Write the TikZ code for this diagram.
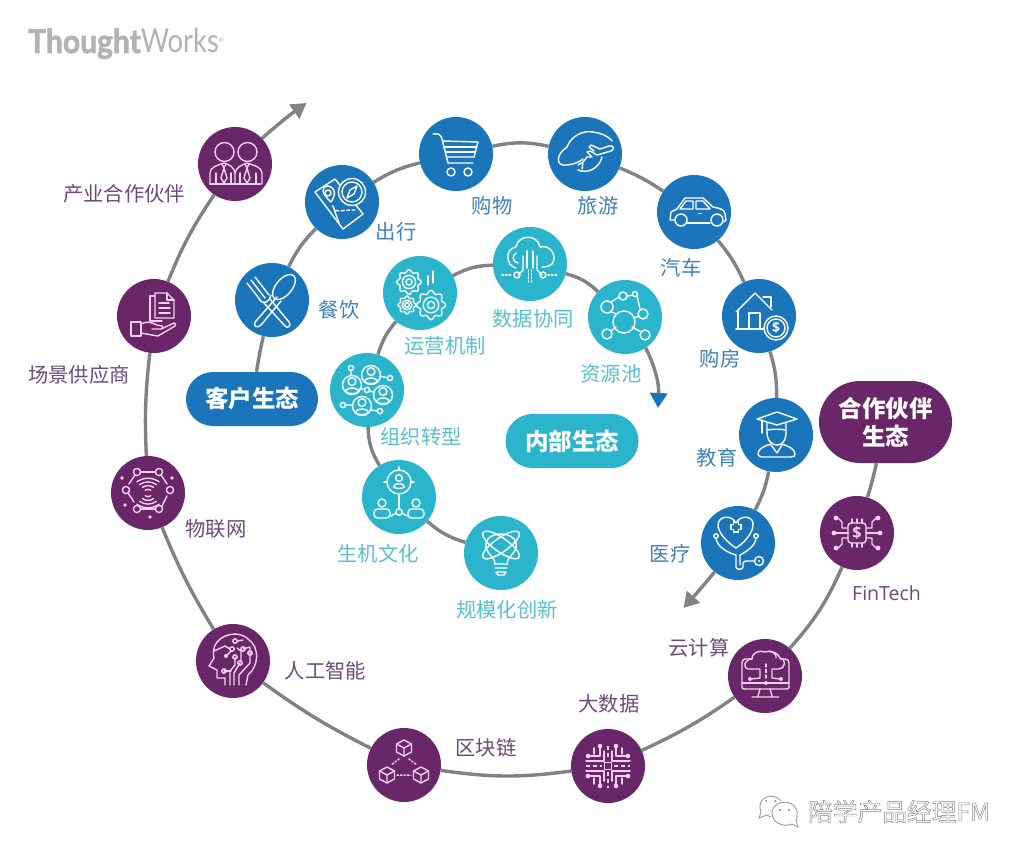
\documentclass[tikz,border=0pt]{standalone}
\usepackage{fontspec}
\usetikzlibrary{arrows.meta,shapes.misc}
\newfontfamily\cjk{Noto Sans CJK SC}
\newfontfamily\ofont{Open Sans}
\newfontfamily\lato{Lato}
\definecolor{cp}{HTML}{692769}
\definecolor{cb}{HTML}{1B75BB}
\definecolor{ct}{HTML}{2BB5CC}
\definecolor{lp}{HTML}{6E4A7C}
\definecolor{lb}{HTML}{3F82B8}
\definecolor{lt}{HTML}{58BFCF}
\definecolor{lg}{HTML}{808285}
\definecolor{ip}{HTML}{F8CFF4}
\definecolor{logog}{HTML}{B2B3B5}
\tikzset{
 bub/.style={circle,minimum size=74pt,inner sep=0pt,draw=none},
 pb/.style={bub,fill=cp}, bb/.style={bub,fill=cb}, tb/.style={bub,fill=ct},
 pill/.style={rounded rectangle,inner sep=0pt,text=white,align=center,
   font=\fontsize{23.5}{28}\selectfont\cjk\bfseries},
 lab/.style={inner sep=0pt,font=\fontsize{20.3}{24}\selectfont\cjk},
 lpn/.style={lab,text=lp}, lbn/.style={lab,text=lb}, ltn/.style={lab,text=lt},
 conn/.style={draw=lg,line width=3.4pt},
 head/.style={-{Triangle[length=15pt,width=17pt]}},
 bhead/.style={-{Triangle[length=15pt,width=17pt,color=cb]}},
}
\newcommand\icon[3]{\begin{scope}[shift={(#1.center)},color=#2,line width=1.4pt,line join=round,line cap=round]#3\end{scope}}
\newcommand\gearic[3]{\draw plot[smooth cycle,domain=0:352.5,samples=48,variable=\t]
   ({#1+#3*(1+.13*cos(8*\t))*cos(\t)},{#2+#3*(1+.13*cos(8*\t))*sin(\t)});
   \draw (#1,#2) circle (#3*.6); \draw (#1,#2) circle (#3*.28);}
\newcommand\cubeic[2]{\begin{scope}[shift={(#1,#2)}]
   \draw (0,-8)--(7.5,-4)--(7.5,4)--(0,8)--(-7.5,4)--(-7.5,-4)--cycle;
   \draw (-7.5,-4)--(0,0)--(7.5,-4) (0,0)--(0,8);\end{scope}}
\newcommand\persic[3]{\begin{scope}[shift={(#1,#2)},scale=#3]
   \draw (0,-3) circle (3.4);
   \draw (-5.5,6) .. controls (-5.5,1.5) and (5.5,1.5) .. (5.5,6) .. controls (3,8) and (-3,8) .. (-5.5,6);\end{scope}}
\newcommand\wmtext[1]{\special{pdf:code q 1 Tr 0.45 w 0.5 0.5 0.5 RG}#1\special{pdf:code Q}}
\newcommand\heavy[1]{\special{pdf:code q 2 Tr 0.7 w 0.698 0.702 0.71 RG}#1\special{pdf:code Q}}
\begin{document}
\begin{tikzpicture}[x=1pt,y=-1pt]
\useasboundingbox (0,0) rectangle (1024,856);
\fill[white] (0,0) rectangle (1024,856);

% logo
\node[anchor=base west,inner sep=0pt,text=logog] (logo) at (28,53)
 {\fontsize{33}{36}\selectfont\lato\scalebox{0.91}[1]{\heavy{\bfseries Thought}}\scalebox{0.83}[1]{Works}\raisebox{10pt}{\fontsize{6}{6}\selectfont ®}};

% purple ring
\node[pb] (n1) at (235,164) {};
\node[pb] (n2) at (154,316) {};
\node[pb] (n3) at (148,493) {};
\node[pb] (n4) at (233,661) {};
\node[pb] (n5) at (404,765) {};
\node[pb] (n6) at (608,766) {};
\node[pb] (n7) at (765,676) {};
\node[pb] (n8) at (857,533) {};
\node[pill,fill=cp,minimum width=133pt,minimum height=82pt] (pp) at (885.5,422) {合作伙伴\\生态};
% blue ring
\node[bb] (b1) at (272,300) {};
\node[bb] (b2) at (342,202) {};
\node[bb] (b3) at (456,154) {};
\node[bb] (b4) at (585,154) {};
\node[bb] (b5) at (694,212) {};
\node[bb] (b6) at (759,316) {};
\node[bb] (b7) at (776,435) {};
\node[bb] (b8) at (738,543) {};
\node[pill,fill=cb,minimum width=132pt,minimum height=54pt] (pb0) at (252,399) {客户生态};
% teal ring
\node[tb] (t1) at (501,553) {};
\node[tb] (t2) at (399,497) {};
\node[tb] (t3) at (367,390) {};
\node[tb] (t4) at (420,293) {};
\node[tb] (t5) at (530,264) {};
\node[tb] (t6) at (625,317) {};
\node[pill,fill=ct,minimum width=133pt,minimum height=54pt] (pt0) at (572,441) {内部生态};

\coordinate (ep) at (306.5,103);
\coordinate (eb) at (683.5,608);
\coordinate (et) at (658,408);

% connectors
\draw[conn] (pp) to[bend left=2] (n8);
\draw[conn] (n8) to[bend left=9] (n7);
\draw[conn] (n7) to[bend left=5] (n6);
\draw[conn] (n6) to[bend left=8] (n5);
\draw[conn] (n5) to[bend left=4.5] (n4);
\draw[conn] (n4) to[bend left=4.5] (n3);
\draw[conn] (n3) to[bend left=4.5] (n2);
\draw[conn] (n2) to[bend left=6] (n1);
\draw[conn,head] (n1) to[bend left=3] (ep);
\draw[conn] (pb0) to[bend left=2] (b1);
\draw[conn] (b1) to[bend left=9] (b2);
\draw[conn] (b2) to[bend left=9] (b3);
\draw[conn] (b3) to[bend left=12] (b4);
\draw[conn] (b4) to[bend left=6] (b5);
\draw[conn] (b5) to[bend left=8] (b6);
\draw[conn] (b6) to[bend left=9] (b7);
\draw[conn] (b7) to[bend left=8] (b8);
\draw[conn,head] (b8) to[bend left=1] (eb);
\draw[conn] (t1) to[bend left=12] (t2);
\draw[conn] (t2) to[bend left=15] (t3);
\draw[conn] (t3) to[bend left=11.5] (t4);
\draw[conn] (t4) to[bend left=13] (t5);
\draw[conn] (t5) to[bend left=14] (t6);
\draw[conn,bhead] (t6) to[bend left=14] (et);

% labels
\node[lpn] (ln1) at (124,194) {产业合作伙伴};
\node[lpn] (ln2) at (79,375) {场景供应商};
\node[lpn] (ln3) at (216,529) {物联网};
\node[lpn] (ln4) at (325.5,671) {人工智能};
\node[lpn] (ln5) at (486,748) {区块链};
\node[lpn] (ln6) at (609,704) {大数据};
\node[lpn] (ln7) at (699,648) {云计算};
\node[inner sep=0pt,text=lp,font=\fontsize{19.5}{24}\selectfont\ofont] (ln8) at (886.5,593) {FinTech};
\node[lbn] (lb1) at (339,310) {餐饮};
\node[lbn] (lb2) at (396,232) {出行};
\node[lbn] (lb3) at (492,206) {购物};
\node[lbn] (lb4) at (598,206) {旅游};
\node[lbn] (lb5) at (681,268) {汽车};
\node[lbn] (lb6) at (720,359) {购房};
\node[lbn] (lb7) at (717,458) {教育};
\node[lbn] (lb8) at (670,554) {医疗};
\node[ltn] (lt1) at (507,610) {规模化创新};
\node[ltn] (lt2) at (378,554) {生机文化};
\node[ltn] (lt3) at (421,437) {组织转型};
\node[ltn] (lt4) at (445,346) {运营机制};
\node[ltn] (lt5) at (533,319) {数据协同};
\node[ltn] (lt6) at (611,374) {资源池};

% ---- purple icons
\icon{n1}{ip}{
 \draw (-10.5,-12) circle (9.5); \draw (12.5,-12) circle (9.5);
 \draw (-25,20) -- (25,20);
 \draw (-25,20) -- (-25,9) .. controls (-25,3) and (-17,1) .. (-11,-1) .. controls (-5,1) and (-1,3) .. (0,9) -- (0,20);
 \draw (0,9) .. controls (1,3) and (7,1) .. (12,-1) .. controls (18,1) and (27,3) .. (27,9) -- (27,20) -- (25,20);
 \draw (-13,0) -- (-11,4) -- (-9,0); \draw (-11,4) -- (-14,14) -- (-11,19) -- (-8,14) -- cycle;
 \draw (10,0) -- (12,4) -- (14,0); \draw (12,4) -- (9,14) -- (12,19) -- (15,14) -- cycle;
 \draw (-19,20) -- (-19,9) (-4,20) -- (-4,9) (5,20) -- (5,9) (21,20) -- (21,9);
}
\icon{n2}{ip}{
 \draw (1,-23) -- (13,-23) -- (20,-16) -- (20,2) -- (1,2) -- cycle;
 \draw (13,-23) -- (13,-16) -- (20,-16);
 \draw (1,-20) -- (-4,-20) -- (-4,5) -- (8,5);
 \draw (5,-13) -- (15,-13) (5,-8) -- (16,-8) (5,-3) -- (16,-3);
 \draw (-23,6) rectangle (-13,20);
 \draw (-13,8) .. controls (-7,5) and (-3,6) .. (3,9) -- (8,10) .. controls (10,11) and (9,13) .. (7,13) -- (-2,13);
 \draw (7,13) -- (20,7) .. controls (22,7) and (22,9) .. (21,10) -- (4,20) -- (-2,19) -- (-13,17);
}
\icon{n3}{ip}{
 \foreach \p in {(-11,-21),(11,-21),(22,-3),(11,16),(-11,16),(-22,-3)} \draw \p circle (3.6);
 \draw (-7,-21) -- (7,-21) (-7,16) -- (7,16);
 \draw (-13,-18) -- (-19,-9) (-20,0) -- (-14,9) (13,-18) -- (19,-9) (14,13) -- (19,3);
 \foreach \p in {(-26,-15),(24,-15),(-23,12),(2,24)} \fill \p circle (1.8);
 \foreach \r in {4,8,12,16} { \draw (-\r*.7,-\r*.7) .. controls (-\r*.25,-\r) and (\r*.25,-\r) .. (\r*.7,-\r*.7); \draw (-\r*.7,\r*.7) .. controls (-\r*.25,\r) and (\r*.25,\r) .. (\r*.7,\r*.7);}
}
\icon{n4}{ip}{
 \draw (-8,24) -- (-8,17) -- (-16,17) -- (-16,9) -- (-24,5) -- (-19,-3) .. controls (-24,-25) and (4,-33) .. (15,-22) .. controls (27,-14) and (26,5) .. (15,14) -- (13,24);
 \draw (-19,-10) -- (-8,-15) -- (-1,-11) -- (-7,-5) ; \fill (-7,-5) circle (2);
 \draw (5,-20) -- (10,-21) (4,-13) -- (8,-10) -- (8,0); 
 \foreach \p in {(-1,-12),(2,-20),(10,-12),(17,-8),(2,-4),(7,2),(-9,10)} \draw[fill=cp] \p circle (2.2);
 \draw (10,-12) -- (17,-14) -- (17,-8) -- (17,2) -- (6,14) -- (6,24);
 \draw (2,-4) -- (2,4) -- (-3,10) -- (-3,24);
 \draw (7,2) -- (1,12) -- (1,24);
 \draw (-9,10) -- (-2,10);
}
\icon{n5}{ip}{
 \cubeic{0}{-17} \cubeic{-17}{10} \cubeic{17}{10}
 \draw[dotted,line width=1.5pt] (-5,-6) -- (-13,0) (5,-6) -- (13,0) (-7,10) -- (7,10);
}
\icon{n6}{ip}{
 \draw (-3.5,-3.5) rectangle (3.5,3.5);
 \draw[dash pattern=on 4pt off 3pt,line cap=butt] (0,-20) -- (0,-6) (0,6) -- (0,22) (-22,0) -- (-6,0) (6,0) -- (22,0);
 \foreach \sx in {-1,1} \foreach \sy in {-1,1} {
  \begin{scope}[xscale=\sx,yscale=\sy]
   \draw (8,-18) -- (8,-10) -- (18,-10); \draw (22,-5) -- (4,-5) (14,-18) -- (14,-12);
   \fill (8,-20) circle (2.3); \fill (20,-10) circle (2.3);
   \draw (4,-5) -- (4,-15);
  \end{scope}}
}
\icon{n7}{ip}{
 \draw (-14,-17) -- (-20,-17) .. controls (-22,-17) and (-23,-15) .. (-23,-13) -- (-23,11) .. controls (-23,13) and (-22,13) .. (-20,13) -- (20,13) .. controls (23,13) and (24,13) .. (24,11) -- (24,-13) .. controls (24,-15) and (23,-17) .. (20,-17) -- (15,-17);
 \draw (-23,7) -- (24,7);
 \draw (-5,13) -- (-7,20) (5,13) -- (7,20) (-13,21) -- (14,21);
 \draw (-5,-7) -- (-17,-7) .. controls (-23,-9) and (-20,-17) .. (-13,-17) .. controls (-13,-24) and (-5,-26) .. (0,-24) .. controls (8,-26) and (14,-22) .. (15,-18) .. controls (22,-17) and (20,-7) .. (14,-7) -- (7,-7);
 \draw (4,-25) .. controls (9,-24) and (12,-21) .. (11,-18);
 \draw (-5,-6) -- (-5,2) -- (-14,3); \draw (7,-6) -- (7,2) -- (15,3);
 \draw[dash pattern=on 3pt off 2.5pt] (1,-12) -- (1,4);
 \foreach \p in {(-15,3),(16,3),(1,7)} \fill \p circle (2);
}
\icon{n8}{ip}{
 \draw[rounded corners=3pt] (-9,-10) rectangle (9,10);
 \node[inner sep=0pt,text=ip,font=\fontsize{16}{16}\selectfont\bfseries\ofont] at (0,0) {\$};
 \draw (-5,-10) -- (-5,-14) (0,-10) -- (0,-14) (5,-10) -- (5,-14) (-5,10) -- (-5,14) (0,10) -- (0,14) (5,10) -- (5,14);
 \foreach \sx in {-1,1} { \begin{scope}[xscale=\sx]
  \draw (9,-5) -- (15,-5) -- (15,-11) -- (19,-15);
  \draw (9,0) -- (21,0);
  \draw (9,5) -- (15,5) -- (15,11) -- (19,15);
  \foreach \p in {(21,-15),(23,0),(21,15)} \fill \p circle (2.4);
 \end{scope}}
}
% ---- blue icons
\icon{b1}{white}{
 \draw (-25,-17) -- (-11,1) (-21,-20) -- (-7,-2) (-17,-23) -- (-3,-5);
 \draw (-13,-1) .. controls (-9,5) and (-3,3) .. (-1,-5);
 \draw (-8,3) -- (13,26) .. controls (15,29) and (20,26) .. (17,22) -- (-2,-1);
 \draw[shift={(12,-13)},rotate=50] (0,0) ellipse (15 and 8);
 \draw (5,-3) -- (-16,21) .. controls (-20,26) and (-15,29) .. (-11,25) -- (9,1);
}
\icon{b2}{white}{
 \draw (-27,-10) -- (-7,-23) -- (21,12) -- (1,27) -- cycle;
 \draw (-14,-9) circle (3); \draw (-14,-16) .. controls (-22,-15) and (-20,-8) .. (-11,0) .. controls (-6,-8) and (-6,-14) .. (-14,-16);
 \draw[dash pattern=on 3pt off 2.5pt] (-9,4) .. controls (-7,12) and (-4,8) .. (13,8);
 \draw (-9,4) -- (-3,21);
 \draw[fill=cb] (10,-10) circle (13.5); \draw (10,-10) circle (10);
 \draw (15,-16) -- (12,-8) -- (5,-4) -- (8,-12) -- cycle;
}
\icon{b3}{white}{
 \draw (-23,-20) .. controls (-17,-21) and (-15,-19) .. (-14,-15) -- (-8,9) -- (17,9);
 \draw (-13,-13) -- (22,-12) -- (18,3) -- (-9,3);
 \draw (-12,-7) -- (20,-7) (-10,-2) -- (19,-2);
 \draw (-5,18) circle (4); \draw (12,18) circle (4);
}
\icon{b4}{white}{
 \draw (-18,-7) .. controls (-14,-18) and (-2,-24) .. (8,-22) .. controls (15,-21) and (22,-19) .. (27,-13);
 \draw (-18,-7) .. controls (-30,1) and (-29,13) .. (-18,11) .. controls (-10,10) and (-6,8) .. (-2,5);
 \draw (-7,16) .. controls (2,20) and (14,15) .. (17,3);
 \draw (-2,8) -- (2,3) -- (7,3) -- (2,-2) -- (5,-3) -- (12,1) -- (26,-3) .. controls (30,-5) and (29,-9) .. (24,-8) -- (15,-5) -- (6,-9) -- (4,-7) -- (9,-3);
 \draw (-7,11) -- (-2,8) -- (-3,15);
}
\icon{b5}{white}{
 \draw (-19,8) -- (-24,8) -- (-23,0) -- (-17,-3) -- (-9,-14) -- (9,-14) -- (19,-5) .. controls (26,-4) and (31,-2) .. (31,2) -- (32,8) -- (30,10);
 \draw (-7,11) -- (16,11);
 \draw (-14,-3) -- (-8,-11) -- (-1,-11) -- (-1,-3) -- cycle;
 \draw (2,-11) -- (9,-11) -- (16,-3) -- (2,-3) -- cycle;
 \draw (-13,8) circle (6); \draw (23,8) circle (6);
 \fill (4,1) rectangle (8,2);
}
\icon{b6}{white}{
 \draw (-23,-4) -- (-4,-23) -- (13,-6);
 \draw (-21,-6) -- (-21,13); \draw (-23,13) -- (5,13);
 \draw (-10,13) -- (-10,-3) -- (1,-3) -- (1,13);
 \draw (4,-19) -- (12,-19) -- (12,-9);
 \draw[fill=cb] (17,12) circle (12);
 \draw (17,12) circle (9);
 \node[inner sep=0pt,text=white,font=\fontsize{14}{14}\selectfont\bfseries\ofont] at (17,12) {\$};
}
\icon{b7}{white}{
 \draw (-19,-16) -- (1,-23) -- (21,-16) -- (1,-10) -- cycle;
 \draw (-14,-15) -- (-14,-2);
 \draw (-9,-13) -- (-9,-3) .. controls (-9,7) and (-3,10) .. (1,10) .. controls (5,10) and (10,7) .. (10,-3) -- (10,-13);
 \draw (-9,-5) .. controls (-3,-6) and (4,-6) .. (10,-5);
 \draw (-5,9) .. controls (-12,11) and (-18,14) .. (-18,19) .. controls (-18,21) and (-16,22) .. (-14,22) -- (15,22) .. controls (18,22) and (19,21) .. (19,19) .. controls (19,14) and (12,11) .. (6,9);
 \draw (-5,10) -- (1,18) -- (6,10);
}
\icon{b8}{white}{
 \draw (-2,5) .. controls (-10,0) and (-20,-10) .. (-20,-18) .. controls (-20,-27) and (-7,-29) .. (-2,-20) .. controls (3,-29) and (16,-27) .. (15,-18) .. controls (15,-10) and (6,0) .. (-2,5);
 \draw (-4.5,-21) -- (0.5,-21) -- (0.5,-18.5) -- (3,-18.5) -- (3,-13.5) -- (0.5,-13.5) -- (0.5,-11) -- (-4.5,-11) -- (-4.5,-13.5) -- (-7,-13.5) -- (-7,-18.5) -- (-4.5,-18.5) -- cycle;
 \draw (-22,-5) .. controls (-22,3) and (-10,10) .. (-2,12) -- (-2,24) .. controls (-2,27) and (5,27) .. (5,24) -- (5,20) .. controls (5,18) and (8,18) .. (10,18) -- (16,18);
 \draw (18,-5) .. controls (18,3) and (6,10) .. (2,12) -- (2,22);
 \draw (-22,-7) circle (2.2); \draw (18,-7) circle (2.2);
 \draw (21,18) circle (4.5); \fill (21,18) circle (1.2);
}
% ---- teal icons
\icon{t4}{white}{
 \gearic{-11}{-11}{11}
 \gearic{-13}{12}{8}
 \gearic{11}{12}{13}
 \draw (13,-22) -- (13,-10) (8,-17) -- (8,-8);
}
\icon{t5}{white}{
 \draw (-14,4) .. controls (-24,2) and (-26,-15) .. (-14,-17) .. controls (-12,-30) and (8,-30) .. (10,-17) .. controls (20,-20) and (28,-8) .. (22,0) .. controls (20,2) and (16,3) .. (12,3);
 \draw (-14,-11) .. controls (-18,-9) and (-18,-2) .. (-12,-1);
 \draw (-7,-8) -- (-7,6) -- (-12,11);
 \draw (7,-8) -- (7,6) -- (12,11);
 \draw (-3,-13) -- (-3,4) (3,-13) -- (3,4);
 \draw (-13,11) circle (3); \draw (13,11) circle (3);
 \draw[dotted,line width=1.5pt] (-28,11) -- (-18,11) (18,11) -- (28,11);
 \draw[dotted,line width=1.6pt] (-1.5,6) -- (-1.5,18) (1.5,6) -- (1.5,18);
}
\icon{t6}{white}{
 \draw (-1,5) circle (11);
 \draw (-18,-10) circle (6); \draw (-2,-21) circle (4); \draw (10,-23) circle (2.5);
 \draw (18,-3) circle (5); \draw (-18,17) circle (5); \draw (20,18) circle (5);
 \draw (-14,-15) -- (-6,-20) (2,-21) -- (8,-22) (-14,-5) -- (-8,-3) (12,-21) -- (15,-8);
 \draw (14,-1) -- (9,1) (-14,14) -- (-9,10) (16,15) -- (7,10);
}
\icon{t3}{white}{
 \persic{4}{-15}{1.15} \persic{-15}{-5}{1.15} \persic{16}{5}{1.15} \persic{-5}{16}{1.15}
 \draw (4,-15) circle (9.5); \draw (-15,-5) circle (9.5); \draw (16,5) circle (9.5); \draw (-5,16) circle (9.5);
 \foreach \p in {(-16,-22),(23,-12),(0,0),(-24,15),(13,21)} \draw \p circle (2.6);
 \draw (-16,-20) -- (-16,-15) (13,-14) -- (21,-12) (-8,-1) -- (-2,-1) (2,1) -- (7,2) (-21,15) -- (-15,15) (3,20) -- (11,21);
}
\icon{t2}{white}{
 \draw (0,-15) circle (12);
 \draw (0,-30) -- (0,-27) (-15,-15) -- (-12,-15) (12,-15) -- (15,-15);
 \persic{0}{-16}{1.0}
 \draw (0,-3) -- (0,11);
 \draw (0,15) circle (3.2);
 \draw (-3,16) -- (-8,19) (3,16) -- (8,19);
 \draw (-17,6) circle (4); \draw (17,6) circle (4);
 \draw[rounded corners=3.5pt] (-25,21) -- (-25,12) -- (-9,12) -- (-9,21) -- cycle;
 \draw[rounded corners=3.5pt] (9,21) -- (9,12) -- (25,12) -- (25,21) -- cycle;
}
\icon{t1}{white}{
 \draw (-6,11) .. controls (-6,3) and (-17,0) .. (-15,-10) .. controls (-13,-22) and (13,-22) .. (15,-10) .. controls (17,0) and (6,3) .. (6,11);
 \draw[shift={(0,-8)},rotate=35] (0,0) ellipse (22 and 7);
 \draw[shift={(0,-8)},rotate=-35] (0,0) ellipse (22 and 7);
 \draw (-7,11) -- (7,11) (-6,15) -- (6,15) (-5,19) -- (5,19) -- (3,22) -- (-3,22) -- (-5,19);
}

% watermark
\begin{scope}[draw=lg!80,line width=0.9pt]
 \draw (761,812) .. controls (755,796) and (775,792) .. (781,801);
 \draw (761,812) -- (759,818) -- (767,815) -- (771,817);
 \draw (797,815) .. controls (799,800) and (775,797) .. (772,812) .. controls (771,822) and (783,828) .. (792,824) -- (798,827) -- (796,821) .. controls (797,819) and (797,817) .. (797,815);
 \fill[lg] (766,801) circle (1) (775,801) circle (1);
 \fill[lg] (780,810) circle (1.1) (789,810) circle (1.1);
\end{scope}
\node[inner sep=0pt,anchor=base west,font=\fontsize{24.7}{26}\selectfont\cjk] (wm) at (808,821) {\wmtext{陪学产品经理FM}};
\end{tikzpicture}
\end{document}
